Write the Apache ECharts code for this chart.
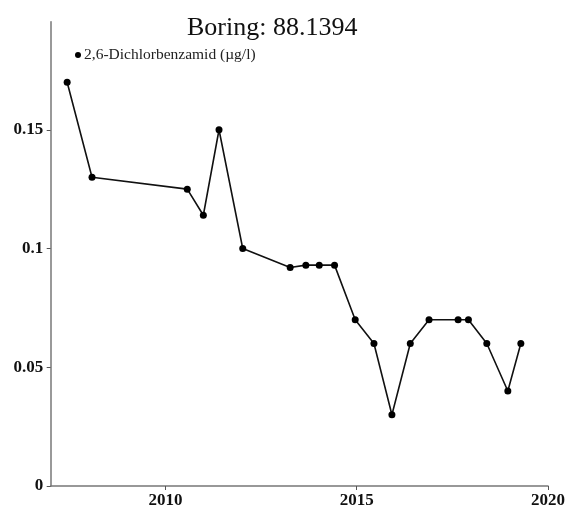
<!DOCTYPE html>
<html>
<head>
<meta charset="utf-8">
<script src="https://cdn.jsdelivr.net/npm/echarts@6/dist/echarts.min.js"></script>
<style>
html,body{margin:0;padding:0;background:#fff;}
#c{width:569px;height:509px;}
</style>
</head>
<body>
<div id="c"></div>
<script>
const titleText = "Boring: 88.1394";
const seriesName = "2,6-Dichlorbenzamid (µg/l)";
const years = [2007.43, 2008.08, 2010.57, 2010.99, 2011.40, 2012.02, 2013.26, 2013.67, 2014.02, 2014.42,
  2014.96, 2015.45, 2015.92, 2016.40, 2016.89, 2017.65, 2017.92, 2018.40, 2018.95, 2019.29];
const values = [0.170, 0.130, 0.125, 0.114, 0.150, 0.100, 0.092, 0.093, 0.093, 0.093,
  0.070, 0.060, 0.030, 0.060, 0.070, 0.070, 0.070, 0.060, 0.040, 0.060];
const xTicks = [2010, 2015, 2020];
const yTicks = [0, 0.05, 0.1, 0.15];

const chart = echarts.init(document.getElementById('c'), null, {renderer: 'canvas'});
const font = 'Liberation Serif';
chart.setOption({
  backgroundColor: '#fff',
  animation: false,
  title: {
    text: titleText,
    left: 182, top: 10,
    textStyle: {fontFamily: font, fontSize: 26, fontWeight: 'normal', color: '#111'}
  },
  legend: {
    left: 70, top: 42,
    icon: 'circle', itemWidth: 6, itemHeight: 6, itemGap: 3,
    textStyle: {fontFamily: font, fontSize: 15.5, color: '#222', padding: [0,0,0,-2]},
    data: [seriesName]
  },
  grid: {left: 50.7, right: 21, top: 21.7, bottom: 19, containLabel: false},
  xAxis: {
    type: 'value', min: 2007, max: 2020,
    splitLine: {show: false},
    axisLine: {lineStyle: {color: '#777', width: 1.5}},
    axisTick: {show: true, length: 4, customValues: xTicks, lineStyle: {color: '#555'}},
    axisLabel: {customValues: xTicks, margin: 6, fontFamily: font, fontSize: 17, fontWeight: 'bold', color: '#111',
      formatter: v => String(v)}
  },
  yAxis: {
    type: 'value', min: 0, max: 0.1955,
    splitLine: {show: false},
    axisLine: {show: true, lineStyle: {color: '#777', width: 1.5}},
    axisTick: {show: true, length: 4, customValues: yTicks, lineStyle: {color: '#555'}},
    axisLabel: {customValues: yTicks, margin: 7.5, fontFamily: font, fontSize: 17, fontWeight: 'bold', color: '#111',
      formatter: v => String(+v.toFixed(4))}
  },
  series: [{
    name: seriesName,
    type: 'line',
    data: years.map((y, i) => [y, values[i]]),
    symbol: 'circle', symbolSize: 7,
    itemStyle: {color: '#000'},
    lineStyle: {color: '#111', width: 1.6}
  }]
});
</script>
</body>
</html>
